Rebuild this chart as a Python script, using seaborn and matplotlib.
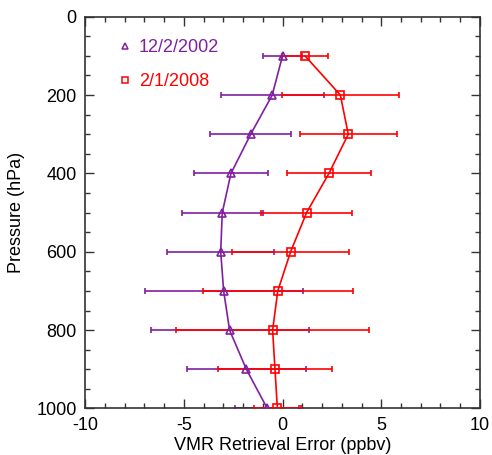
import numpy as np
import pandas as pd
import matplotlib.pyplot as plt
from matplotlib.lines import Line2D
import seaborn as sns

# retrieval error profiles
pressure = [100, 200, 300, 400, 500, 600, 700, 800, 900, 1000]
err_2002 = [0.0, -0.52, -1.61, -2.61, -3.05, -3.13, -2.98, -2.68, -1.83, -0.77]
sd_2002 = [1.0, 2.6, 2.05, 1.89, 2.04, 2.7, 4.0, 4.0, 3.0, 1.62]
err_2008 = [1.14, 2.93, 3.33, 2.35, 1.22, 0.41, -0.24, -0.5, -0.38, -0.26]
sd_2008 = [1.16, 2.97, 2.45, 2.13, 2.3, 2.97, 3.8, 4.87, 2.9, 1.19]

labels = ['12/2/2002', '2/1/2008']
colors = {'12/2/2002': '#8020A0', '2/1/2008': '#FF0000'}
markers = {'12/2/2002': '^', '2/1/2008': 's'}

df = pd.DataFrame({
    'pressure': pressure * 2,
    'error': err_2002 + err_2008,
    'sd': sd_2002 + sd_2008,
    'date': [labels[0]] * len(pressure) + [labels[1]] * len(pressure),
})

sns.set_style('ticks')
plt.rcParams['font.family'] = ['Liberation Sans', 'DejaVu Sans']
plt.rcParams['font.size'] = 13
plt.rcParams['axes.unicode_minus'] = False
plt.rcParams['text.color'] = 'black'
plt.rcParams['axes.labelcolor'] = 'black'
plt.rcParams['xtick.color'] = 'black'
plt.rcParams['ytick.color'] = 'black'

fig = plt.figure(figsize=(4.92, 4.55), dpi=100)
ax = fig.add_axes([0.1728, 0.1022, 0.8028, 0.8611])

# error bars first, then lines with markers on top
for lab in labels:
    sub = df[df['date'] == lab]
    ax.errorbar(sub['error'], sub['pressure'], xerr=sub['sd'], fmt='none',
                ecolor=colors[lab], elinewidth=1.2, capsize=2.2, capthick=1.2,
                zorder=2 if lab == labels[0] else 3)

sns.lineplot(data=df, x='error', y='pressure', hue='date', style='date',
             palette=colors, markers=markers, dashes=False, orient='y',
             sort=False, errorbar=None, legend=False, linewidth=1.2,
             markersize=6, ax=ax)

for line, lab in zip(ax.lines[-2:], labels):
    line.set_markerfacecolor('none')
    line.set_markeredgecolor(colors[lab])
    line.set_markeredgewidth(1.2)
    line.set_zorder(4)

ax.set_xlim(-10, 10)
ax.set_ylim(1000, 0)
ax.set_xticks([-10, -5, 0, 5, 10])
ax.set_xticks(np.arange(-10, 11, 1), minor=True)
ax.set_yticks(np.arange(0, 1001, 200))
ax.set_yticks(np.arange(0, 1001, 50), minor=True)
ax.tick_params(which='both', direction='in', top=True, right=True,
               color='#333333', labelsize=13, labelcolor='black')
ax.tick_params(which='major', length=6.5, width=1.0, pad=6)
ax.tick_params(which='minor', length=3.5, width=1.0)
for sp in ax.spines.values():
    sp.set_linewidth(1.2)
    sp.set_color('#333333')

ax.set_xlabel('VMR Retrieval Error (ppbv)', fontsize=13, labelpad=2)
ax.set_ylabel('Pressure (hPa)', fontsize=13, labelpad=8)

handles = [Line2D([], [], linestyle='none', marker=markers[lab], markersize=5,
                  markerfacecolor='none', markeredgecolor=colors[lab],
                  markeredgewidth=1.1, label=lab) for lab in labels]
ax.legend(handles=handles, loc='upper left', bbox_to_anchor=(0.043, 0.984),
          frameon=False, fontsize=13, handlelength=0.8, handletextpad=0.35,
          labelspacing=0.95, labelcolor=[colors[l] for l in labels])

fig.savefig('out.png', dpi=100)
